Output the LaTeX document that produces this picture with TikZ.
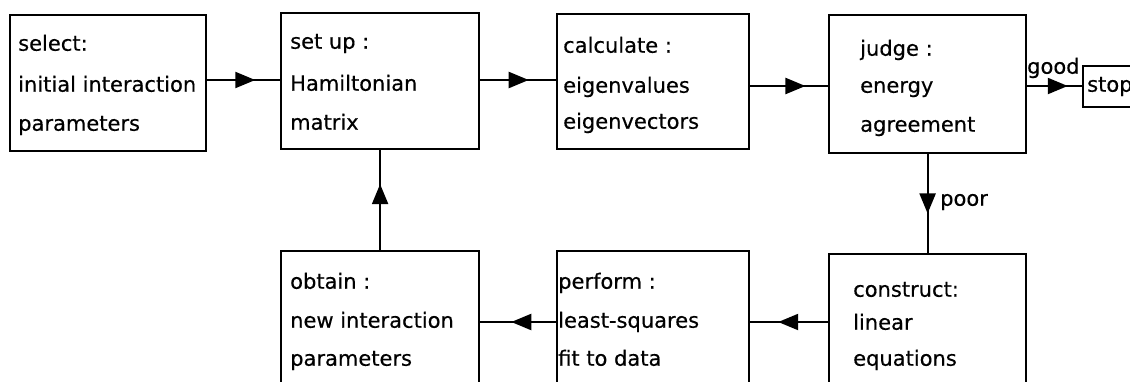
\documentclass[tikz,border=0pt]{standalone}
\usepackage{fontspec}
\setmainfont{DejaVu Sans}[FakeBold=0.4]
\usetikzlibrary{arrows.meta,decorations.markings}
\begin{document}
\begin{tikzpicture}[x=1pt,y=-1pt,
  box/.style={draw,line width=2.2pt,anchor=north west,inner sep=0pt},
  lbl/.style={anchor=mid west,inner sep=0pt,font=\fontsize{21}{24}\selectfont},
  flow/.style={line width=2.2pt},
  midarrow/.style={postaction={decorate},decoration={markings,mark=at position #1 with {\arrow{Triangle[length=20pt,width=16pt]}}}}]
\useasboundingbox (0,0) rectangle (1130,381);
\clip (0,0) rectangle (1130,381);
% top row boxes
\node[box,minimum width=196pt,minimum height=136pt] (b1) at (9,14) {};
\node[box,minimum width=198pt,minimum height=136pt] (b2) at (280,12) {};
\node[box,minimum width=192pt,minimum height=135pt] (b3) at (556,13) {};
\node[box,minimum width=197pt,minimum height=138pt] (b4) at (828,14) {};
\node[box,minimum width=70pt,minimum height=41pt] (stop) at (1082,65) {};
% bottom row boxes
\node[box,minimum width=198pt,minimum height=160pt] (b7) at (280,250) {};
\node[box,minimum width=192pt,minimum height=160pt] (b8) at (556,250) {};
\node[box,minimum width=197pt,minimum height=160pt] (b6) at (828,253) {};
% texts
\node[lbl] (t1a) at (18,48) {select:};
\node[lbl] (t1b) at (18,89) {initial interaction};
\node[lbl] (t1c) at (18,128) {parameters};
\node[lbl] (t2a) at (290,46) {set up :};
\node[lbl] (t2b) at (290,88) {Hamiltonian};
\node[lbl] (t2c) at (290,127) {matrix};
\node[lbl] (t3a) at (563,50) {calculate :};
\node[lbl] (t3b) at (563,90) {eigenvalues};
\node[lbl] (t3c) at (563,126) {eigenvectors};
\node[lbl] (t4a) at (860,53) {judge :};
\node[lbl] (t4b) at (860,90) {energy};
\node[lbl] (t4c) at (860,129) {agreement};
\node[lbl] (ts) at (1087,89) {stop};
\node[lbl] (t6a) at (853,294) {construct:};
\node[lbl] (t6b) at (853,327) {linear};
\node[lbl] (t6c) at (853,363) {equations};
\node[lbl] (t8a) at (558,286) {perform :};
\node[lbl] (t8b) at (558,325) {least-squares};
\node[lbl] (t8c) at (558,363) {fit to data};
\node[lbl] (t7a) at (290,286) {obtain :};
\node[lbl] (t7b) at (290,325) {new interaction};
\node[lbl] (t7c) at (290,363) {parameters};
\node[lbl] (good) at (1027,71) {good};
\node[lbl] (poor) at (940,203) {poor};
% connectors
\coordinate (r1) at (0,80);
\coordinate (r2) at (0,86);
\coordinate (r3) at (0,322);
\draw[flow,midarrow=0.66] (b1.east |- r1) -- (b2.west |- r1);
\draw[flow,midarrow=0.64] (b2.east |- r1) -- (b3.west |- r1);
\draw[flow,midarrow=0.71] (b3.east |- r2) -- (b4.west |- r2);
\draw[flow,midarrow=0.74] (b4.east |- r2) -- (stop.west |- r2);
\draw[flow,midarrow=0.6] (b4.south) -- (b6.north);
\draw[flow,midarrow=0.64] (b6.west |- r3) -- (b8.east |- r3);
\draw[flow,midarrow=0.59] (b8.west |- r3) -- (b7.east |- r3);
\draw[flow,midarrow=0.66] (b7.north) -- (b2.south);
\end{tikzpicture}
\end{document}
